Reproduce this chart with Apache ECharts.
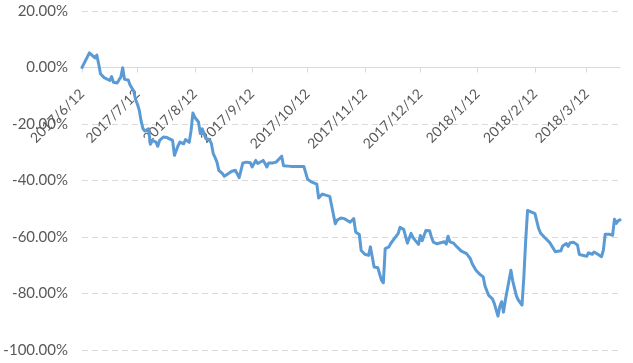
<!DOCTYPE html>
<html>
<head>
<meta charset="utf-8">
<script src="https://cdn.jsdelivr.net/npm/echarts@6/dist/echarts.min.js"></script>
<style>
html,body{margin:0;padding:0;background:#fff;}
#chart{width:633px;height:363px;}
</style>
</head>
<body>
<div id="chart"></div>
<script>
// x positions: days since 2017/6/12
const dayOffsets = [0,4,5,7,8,9,10,12,15,16,17,19,20,21,22,23,24,25,26,27,28,29,30,31,32,33,34,35,36,37,38,39,40,41,42,44,46,47,49,50,51,52,53,55,56,58,59,60,61,63,64,65,66,67,69,70,71,72,73,74,76,77,79,81,83,84,85,86,87,89,91,92,94,95,96,98,99,100,101,103,105,106,108,109,110,113,116,118,120,122,124,127,128,130,131,134,135,137,138,140,142,145,147,148,150,151,153,155,156,158,160,161,162,163,164,166,167,169,171,172,174,175,176,178,179,180,182,183,184,186,188,189,190,192,193,196,197,198,199,201,203,205,206,208,209,210,211,213,215,216,217,218,220,222,223,225,226,227,228,229,232,233,235,236,238,239,240,241,245,247,248,250,253,255,256,257,259,260,262,263,264,266,268,269,270,273,274,276,277,279,281,282,283,285,287,288,289,290,291];
// cumulative return, %
const returns = [0,5.2,4.6,3.4,4.4,1.3,-2.2,-3.6,-4.6,-3.2,-5.2,-5.5,-4.4,-3.4,-0.1,-4.2,-4.8,-4.4,-6.2,-5.5,-8.4,-11.4,-13.0,-15.2,-19.0,-21.7,-22.5,-22.9,-21.7,-27.2,-25.8,-25.2,-26.4,-27.9,-25.8,-24.6,-24.8,-25.5,-25.8,-31.1,-31.7,-27.6,-26.4,-27.0,-25.5,-26.5,-22.3,-16.1,-17.6,-19.3,-23.4,-21.7,-23.4,-25.2,-25.5,-27.0,-30.5,-31.9,-33.5,-36.4,-37.6,-38.5,-37.6,-36.7,-36.4,-36.6,-39.0,-36.4,-33.8,-33.5,-33.7,-35.2,-32.9,-34.0,-34.6,-32.9,-34.0,-35.2,-33.8,-33.8,-33.5,-33.8,-31.4,-34.8,-35.0,-35.0,-35.0,-35.0,-35.0,-39.5,-40.5,-41.3,-46.2,-44.8,-45.1,-45.6,-45.8,-55.3,-54.0,-53.3,-53.5,-54.8,-53.5,-58.2,-59.1,-64.8,-66.1,-66.5,-63.5,-70.6,-70.9,-71.1,-75.3,-76.2,-64.1,-63.5,-62.3,-60.5,-58.8,-56.6,-57.3,-57.6,-62.2,-58.7,-60.2,-61.0,-62.6,-59.5,-61.3,-57.7,-57.8,-60.0,-61.8,-62.4,-61.7,-61.7,-62.5,-59.7,-61.7,-62.2,-63.6,-64.9,-65.3,-65.9,-66.3,-67.6,-69.4,-71.7,-73.1,-73.7,-74.1,-77.4,-80.7,-81.9,-83.5,-88.0,-84.5,-82.9,-86.6,-82.3,-71.8,-75.6,-80.9,-82.3,-84.1,-74.1,-61.1,-50.6,-51.7,-57.0,-58.6,-60.0,-62.0,-64.1,-65.2,-65.0,-64.9,-63.2,-62.3,-63.3,-62.0,-61.9,-62.8,-66.2,-66.8,-66.8,-65.6,-66.1,-65.3,-66.1,-67.0,-64.7,-59.0,-59.0,-59.4,-53.7,-55.2,-54.3,-53.9];
const tickDays = [0,30,61,92,122,153,183,214,245,273];
const tickLabels = ['2017/6/12','2017/7/12','2017/8/12','2017/9/12','2017/10/12','2017/11/12','2017/12/12','2018/1/12','2018/2/12','2018/3/12'];

const seriesData = dayOffsets.map((d,i)=>[d, returns[i]]);
const FONT = 'Lato';
const GRID_TOP = 11, GRID_BOTTOM = 13, H = 363;
const yMin = -100, yMax = 20;
// shift the x axis up from the grid bottom to the 0% level
const plotH = H - GRID_TOP - GRID_BOTTOM;
const zeroShift = -plotH * (0 - yMin) / (yMax - yMin);

const chart = echarts.init(document.getElementById('chart'), null, {renderer:'canvas'});
chart.setOption({
  animation:false,
  grid:{left:82,right:13,top:GRID_TOP,bottom:GRID_BOTTOM,containLabel:false,outerBoundsMode:'none'},
  xAxis:{
    type:'value', min:0, max:291, offset:zeroShift,
    axisLine:{show:true,onZero:false,lineStyle:{color:'#D9D9D9',width:1}},
    axisTick:{show:true,length:5,customValues:tickDays,lineStyle:{color:'#D9D9D9'}},
    axisLabel:{show:true,customValues:tickDays,rotate:45,margin:24,color:'#595959',fontSize:14,fontFamily:FONT,
      formatter:function(v){const i=tickDays.indexOf(Math.round(v));return i>=0?tickLabels[i]:'';}},
    splitLine:{show:false}
  },
  yAxis:{
    type:'value', min:yMin, max:yMax, interval:20,
    axisLine:{show:false,onZero:false}, axisTick:{show:false},
    axisLabel:{margin:14,color:'#595959',fontSize:15,fontFamily:FONT,formatter:function(v){return v.toFixed(2)+'%';}},
    splitLine:{show:true,lineStyle:{color:'#D9D9D9',type:[6,4],width:1}}
  },
  series:[{
    type:'line', data:seriesData, showSymbol:false, symbol:'none',
    lineStyle:{color:'#5B9BD5',width:3,join:'round',cap:'round'},
    z:3
  }]
});
</script>
</body>
</html>
